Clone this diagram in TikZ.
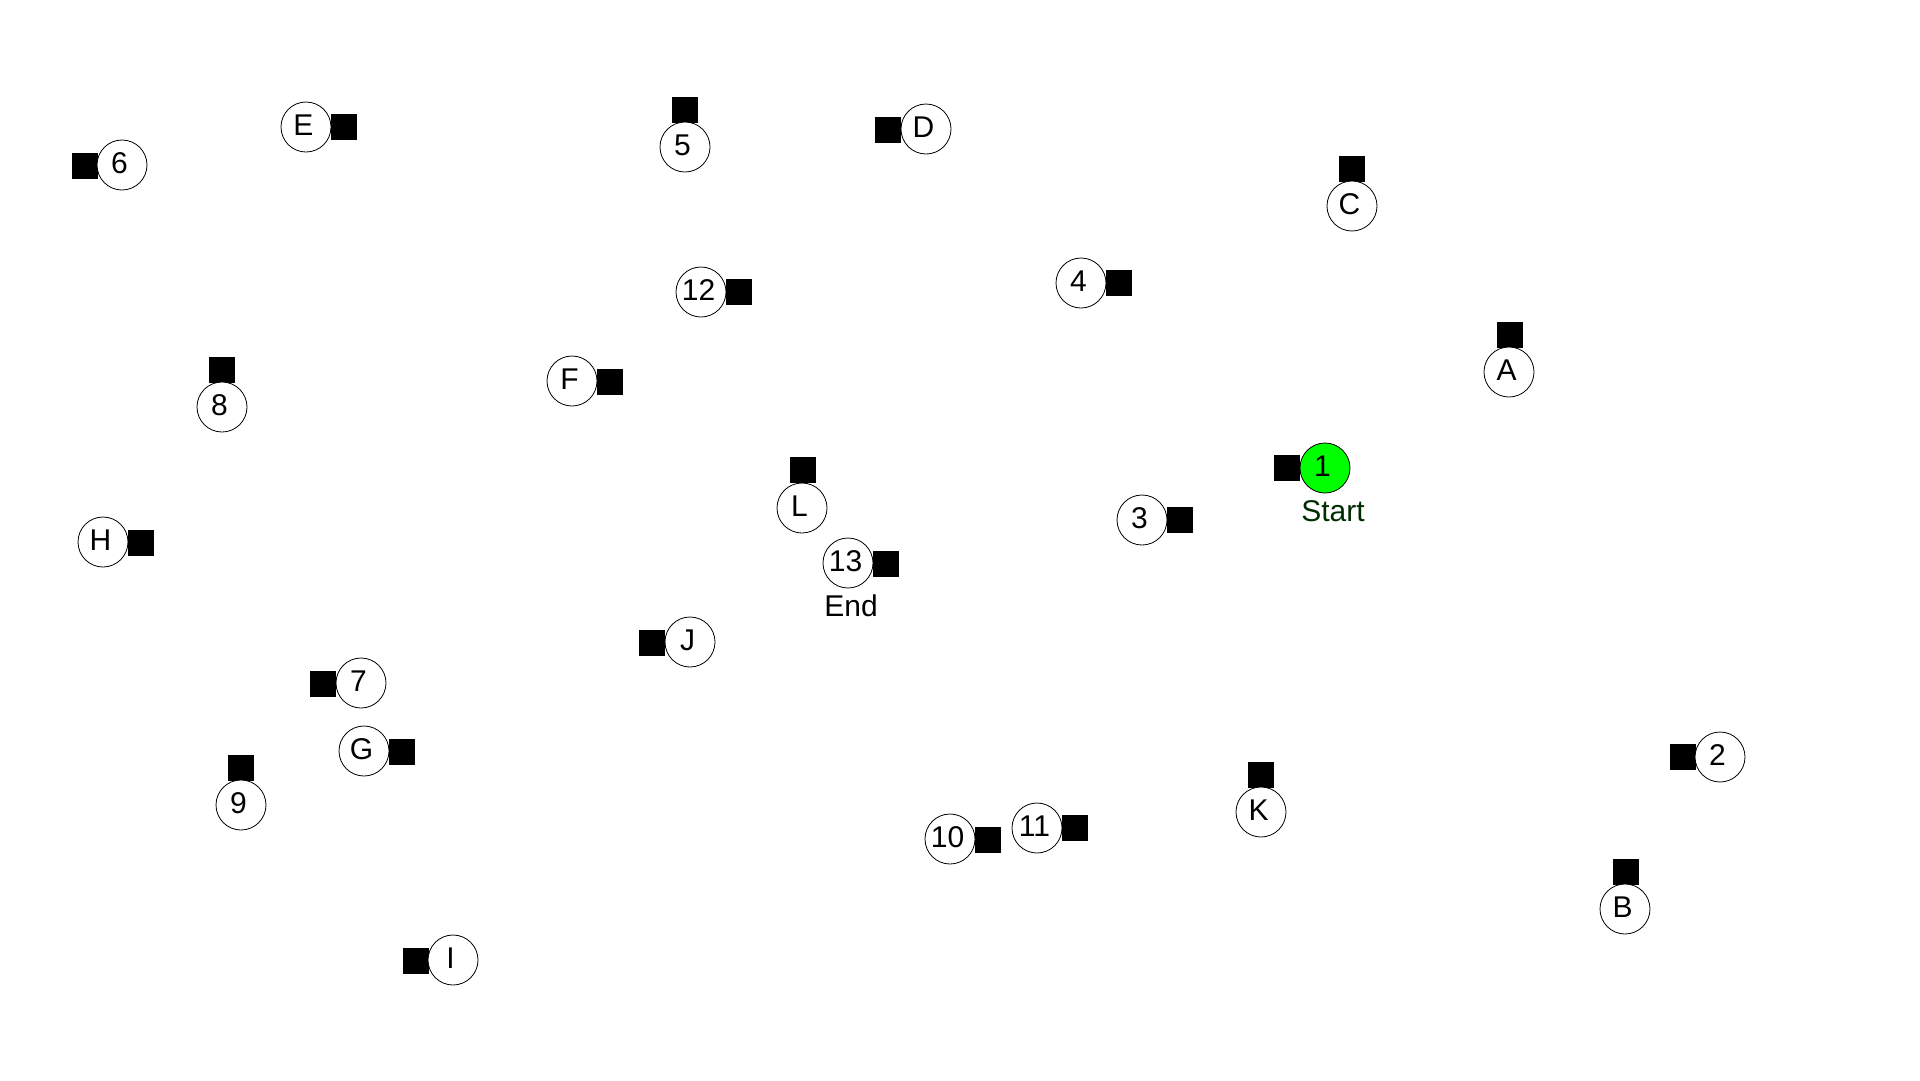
\documentclass[tikz,border=0pt]{standalone}
\usepackage{fontspec}
\setmainfont{Liberation Sans}
\definecolor{startgreen}{RGB}{0,255,0}
\definecolor{darkgreen}{RGB}{0,45,0}
\begin{document}
\begin{tikzpicture}[x=1pt,y=-1pt,
  place/.style={circle,draw=black,line width=0.8pt,fill=white,minimum size=50pt,inner sep=0pt,text height=22pt,text depth=6pt,font=\fontsize{30}{36}\selectfont,execute at begin node={\kern-5pt}},
  startplace/.style={place,fill=startgreen},
  token/.style={rectangle,fill=black,minimum size=26pt,inner sep=0pt},
  caption/.style={anchor=base,inner sep=0pt,font=\fontsize{30}{36}\selectfont}]
\useasboundingbox (0,0) rectangle (1920,1080);
% tokens
\node[token] (s6) at (85,166) {};
\node[token] (sE) at (344,127) {};
\node[token] (s8) at (222,370) {};
\node[token] (s5) at (685,110) {};
\node[token] (sD) at (888,130) {};
\node[token] (s12) at (739,292) {};
\node[token] (sF) at (610,382) {};
\node[token] (s4) at (1119,283) {};
\node[token] (sC) at (1352,169) {};
\node[token] (sA) at (1510,335) {};
\node[token] (sH) at (141,543) {};
\node[token] (s7) at (323,684) {};
\node[token] (sG) at (402,752) {};
\node[token] (sL) at (803,470) {};
\node[token] (s13) at (886,564) {};
\node[token] (sJ) at (652,643) {};
\node[token] (s3) at (1180,520) {};
\node[token] (s1) at (1287,468) {};
\node[token] (s9) at (241,768) {};
\node[token] (sI) at (416,961) {};
\node[token] (s10) at (988,840) {};
\node[token] (s11) at (1075,828) {};
\node[token] (sK) at (1261,775) {};
\node[token] (s2) at (1683,757) {};
\node[token] (sB) at (1626,872) {};
% places
\node[place] (p6) at (122,165) {6};
\node[place] (pE) at (306,127) {E};
\node[place] (p8) at (222,407) {8};
\node[place] (p5) at (685,147) {5};
\node[place] (pD) at (926,129) {D};
\node[place] (p12) at (701,292) {12};
\node[place] (pF) at (572,381) {F};
\node[place] (p4) at (1081,283) {4};
\node[place] (pC) at (1352,206) {C};
\node[place] (pA) at (1509,372) {A};
\node[place] (pH) at (103,542) {H};
\node[place] (p7) at (361,683) {7};
\node[place] (pG) at (364,751) {G};
\node[place] (pL) at (802,508) {L};
\node[place] (p13) at (848,563) {13};
\node[place] (pJ) at (690,642) {J};
\node[place] (p3) at (1142,520) {3};
\node[startplace] (p1) at (1325,468) {1};
\node[place] (p9) at (241,805) {9};
\node[place] (pI) at (453,960) {I};
\node[place] (p10) at (950,839) {10};
\node[place] (p11) at (1037,828) {11};
\node[place] (pK) at (1261,812) {K};
\node[place] (p2) at (1720,757) {2};
\node[place] (pB) at (1625,909) {B};
% captions
\node[caption,text=darkgreen] (startlbl) at (1333,521) {Start};
\node[caption] (endlbl) at (851,616) {End};
\end{tikzpicture}
\end{document}
